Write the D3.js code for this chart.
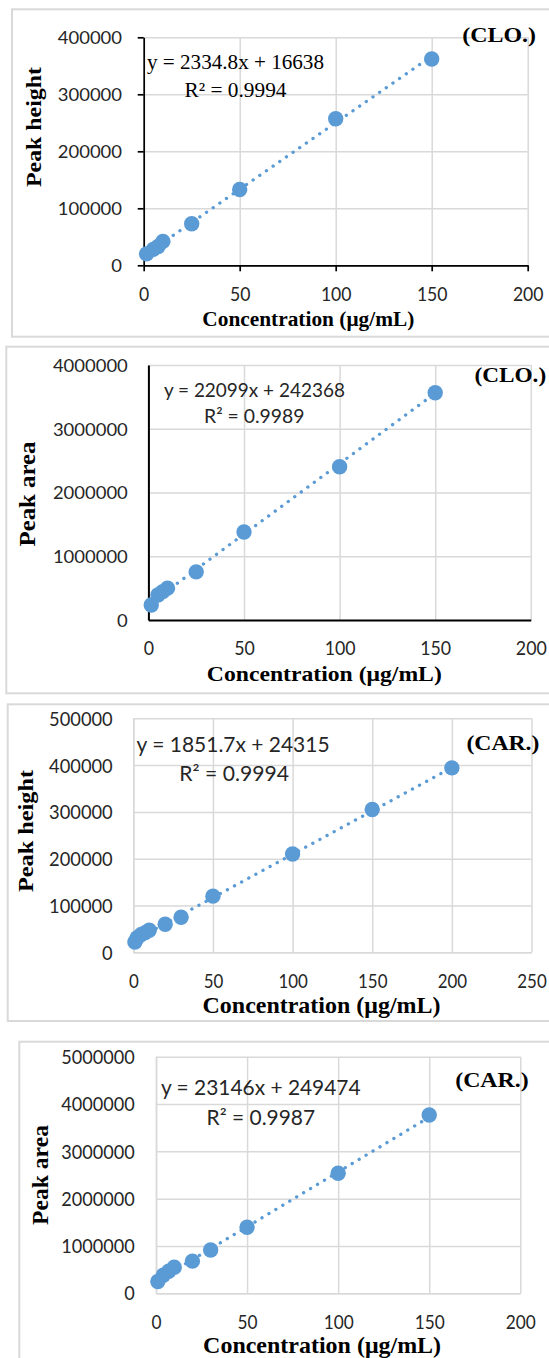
<!DOCTYPE html>
<html><head><meta charset="utf-8">
<script src="https://cdn.jsdelivr.net/npm/d3@7"></script>
<style>html,body{margin:0;padding:0;background:#fff;}svg{display:block;}</style>
</head><body>
<script>
// ---------- data ----------
const cloConc = [1.5, 5, 7.5, 10, 25, 50, 100, 150];
const cloHeight = [20000, 28000, 33000, 42000, 73000, 133000, 257000, 362000];
const cloArea = [236000, 392000, 445000, 500000, 755000, 1380000, 2405000, 3565000];
const carHeightConc = [1, 2.5, 5, 7.5, 10, 20, 30, 50, 100, 150, 200];
const carHeight = [22000, 31000, 38000, 42000, 47000, 60000, 75000, 120000, 210000, 305000, 394000];
const carAreaConc = [1, 4, 7, 10, 20, 30, 50, 100, 150];
const carArea = [250000, 380000, 465000, 550000, 680000, 915000, 1395000, 2536000, 3768000];

const slopes = [2334.8, 22099, 1851.7, 23146];
const intercepts = [16638, 242368, 24315, 249474];
const eqLabels = ["y = 2334.8x + 16638", "y = 22099x + 242368", "y = 1851.7x + 24315", "y = 23146x + 249474"];
const r2Labels = ["R² = 0.9994", "R² = 0.9989", "R² = 0.9994", "R² = 0.9987"];
const tags = ["(CLO.)", "(CLO.)", "(CAR.)", "(CAR.)"];
const yTitles = ["Peak height", "Peak area", "Peak height", "Peak area"];
const xTitle = "Concentration (μg/mL)";

const xTicks200 = [0, 50, 100, 150, 200];
const xTicks250 = [0, 50, 100, 150, 200, 250];
const yTicksP1 = [0, 100000, 200000, 300000, 400000];
const yTicksP2 = [0, 1000000, 2000000, 3000000, 4000000];
const yTicksP3 = [0, 100000, 200000, 300000, 400000, 500000];
const yTicksP4 = [0, 1000000, 2000000, 3000000, 4000000, 5000000];

const series = [
  {xs: cloConc, ys: cloHeight, xTicks: xTicks200, yTicks: yTicksP1},
  {xs: cloConc, ys: cloArea, xTicks: xTicks200, yTicks: yTicksP2},
  {xs: carHeightConc, ys: carHeight, xTicks: xTicks250, yTicks: yTicksP3},
  {xs: carAreaConc, ys: carArea, xTicks: xTicks200, yTicks: yTicksP4}
];

// ---------- layout / style ----------
const layout = [
  {frame:[12,9.3,336.7], x0:143.7, x1:527.7, y0:265.3, y1:37.3, axis:'#000', axisW:1.7, tick:6,
   yLabR:122, yFs:16.3, yCw:10.7, xLabB:301, xFs:19, xCw:10.2,
   yt:{bx:41, cy:127, len:120, fs:22}, xt:{cx:308.3, by:326, len:212, fs:20},
   tag:{x:462.2, by:41.7, len:73.8, fs:22},
   eqFont:'"Liberation Serif", "Times New Roman", serif', eqFs:21,
   eq:{x:147, by:69, len:177}, r2:{x:184.5, by:96.7, len:102}},
  {frame:[6.3,346.7,693.3], x0:148.4, x1:530.8, y0:620, y1:365, axis:'#000', axisW:2, tick:0,
   yLabR:127.8, yFs:17.5, yCw:10.7, xLabB:655, xFs:18.5, xCw:10.3,
   yt:{bx:35, cy:494, len:105, fs:23}, xt:{cx:324.3, by:680.5, len:235, fs:22},
   tag:{x:474.4, by:381.7, len:71.8, fs:20.5},
   eqFont:'Lato, "Open Sans", sans-serif', eqFs:19.5,
   eq:{x:163.9, by:397.3, len:181}, r2:{x:204, by:422.7, len:100.6}},
  {frame:[7.7,704.3,1021], x0:133.3, x1:531.5, y0:952.3, y1:718.3, axis:'#d9d9d9', axisW:1.5, tick:0,
   yLabR:112.7, yFs:19.5, yCw:10.6, xLabB:987.7, xFs:19, xCw:9.8,
   yt:{bx:32.5, cy:831, len:122, fs:22}, xt:{cx:321.5, by:1013, len:238, fs:23},
   tag:{x:466.4, by:750, len:73, fs:21},
   eqFont:'Lato, "Open Sans", sans-serif', eqFs:20.5,
   eq:{x:136.6, by:752.3, len:193}, r2:{x:179.3, by:781, len:109.6}},
  {frame:[19.3,1041.7,1420], x0:156, x1:520.3, y0:1293.3, y1:1056.7, axis:'#d9d9d9', axisW:1.5, tick:0,
   yLabR:134.8, yFs:18.5, yCw:10.5, xLabB:1329, xFs:19.5, xCw:10,
   yt:{bx:48, cy:1175, len:100, fs:23}, xt:{cx:322.1, by:1353, len:238, fs:23},
   tag:{x:455.2, by:1086.7, len:73.5, fs:21},
   eqFont:'Lato, "Open Sans", sans-serif', eqFs:20.5,
   eq:{x:161, by:1095, len:199.6}, r2:{x:206.6, by:1125, len:108.5}}
];

const BLUE = '#5B9BD5', GRID = '#d9d9d9', TXT = '#262626';
const SERIF = '"Liberation Serif", "Times New Roman", serif';
const SANS = 'Lato, "Open Sans", sans-serif';

const svg = d3.select('body').append('svg').attr('width', 549).attr('height', 1358);

series.forEach((s, i) => {
  const L = layout[i];
  const g = svg.append('g');
  // frame
  g.append('rect').attr('x', L.frame[0]).attr('y', L.frame[1])
    .attr('width', 600).attr('height', L.frame[2] - L.frame[1])
    .attr('fill', 'none').attr('stroke', GRID).attr('stroke-width', 2);

  const x = d3.scaleLinear().domain(d3.extent(s.xTicks)).range([L.x0, L.x1]);
  const y = d3.scaleLinear().domain(d3.extent(s.yTicks)).range([L.y0, L.y1]);

  // gridlines
  g.append('g').attr('transform', `translate(0,${L.y0})`)
    .call(d3.axisBottom(x).tickValues(s.xTicks).tickSize(-(L.y0 - L.y1)).tickFormat(''))
    .call(a => { a.select('.domain').remove(); a.selectAll('line').attr('stroke', GRID).attr('stroke-width', 1.5); });
  g.append('g').attr('transform', `translate(${L.x0},0)`)
    .call(d3.axisLeft(y).tickValues(s.yTicks).tickSize(-(L.x1 - L.x0)).tickFormat(''))
    .call(a => { a.select('.domain').remove(); a.selectAll('line').attr('stroke', GRID).attr('stroke-width', 1.5); });

  // x axis
  const xa = g.append('g').attr('transform', `translate(0,${L.y0})`)
    .call(d3.axisBottom(x).tickValues(s.xTicks).tickSizeInner(L.tick).tickSizeOuter(0).tickFormat(d3.format('d')));
  xa.select('.domain').attr('stroke', L.axis).attr('stroke-width', L.axisW);
  xa.selectAll('.tick line').attr('stroke', L.axis).attr('stroke-width', L.axisW);
  if (!L.tick) xa.selectAll('.tick line').remove();
  xa.selectAll('text').attr('y', L.xLabB - L.y0).attr('dy', null)
    .attr('font-family', SANS).attr('font-size', L.xFs).attr('fill', TXT)
    .attr('textLength', d => String(d).length * L.xCw).attr('lengthAdjust', 'spacingAndGlyphs');

  // y axis
  const ya = g.append('g').attr('transform', `translate(${L.x0},0)`)
    .call(d3.axisLeft(y).tickValues(s.yTicks).tickSizeInner(L.tick).tickSizeOuter(0).tickFormat(d3.format('d')));
  ya.select('.domain').attr('stroke', L.axis).attr('stroke-width', L.axisW);
  ya.selectAll('.tick line').attr('stroke', L.axis).attr('stroke-width', L.axisW);
  if (!L.tick) ya.selectAll('.tick line').remove();
  ya.selectAll('text').attr('x', L.yLabR - L.x0).attr('dy', '0.36em').attr('text-anchor', 'end')
    .attr('font-family', SANS).attr('font-size', L.yFs).attr('fill', TXT)
    .attr('textLength', d => String(d).length * L.yCw).attr('lengthAdjust', 'spacingAndGlyphs');

  // trendline
  const ext = d3.extent(s.xs);
  const line = d3.line().x(d => x(d)).y(d => y(slopes[i] * d + intercepts[i]));
  g.append('path').attr('d', line(ext)).attr('fill', 'none').attr('stroke', BLUE)
    .attr('stroke-width', 3.3).attr('stroke-linecap', 'round').attr('stroke-dasharray', '0.1 8');

  // points
  g.append('g').selectAll('circle').data(s.xs.map((v, k) => [v, s.ys[k]])).join('circle')
    .attr('cx', d => x(d[0])).attr('cy', d => y(d[1])).attr('r', 7.7).attr('fill', BLUE);

  // texts
  g.append('text').text(yTitles[i])
    .attr('transform', `translate(${L.yt.bx},${L.yt.cy}) rotate(-90)`)
    .attr('text-anchor', 'middle').attr('font-family', SERIF).attr('font-weight', 'bold')
    .attr('font-size', L.yt.fs).attr('fill', '#000')
    .attr('textLength', L.yt.len).attr('lengthAdjust', 'spacingAndGlyphs');
  g.append('text').text(xTitle).attr('x', L.xt.cx).attr('y', L.xt.by)
    .attr('text-anchor', 'middle').attr('font-family', SERIF).attr('font-weight', 'bold')
    .attr('font-size', L.xt.fs).attr('fill', '#000')
    .attr('textLength', L.xt.len).attr('lengthAdjust', 'spacingAndGlyphs');
  g.append('text').text(tags[i]).attr('x', L.tag.x).attr('y', L.tag.by)
    .attr('font-family', SERIF).attr('font-weight', 'bold')
    .attr('font-size', L.tag.fs).attr('fill', '#000')
    .attr('textLength', L.tag.len).attr('lengthAdjust', 'spacingAndGlyphs');
  g.append('text').text(eqLabels[i]).attr('x', L.eq.x).attr('y', L.eq.by)
    .attr('font-family', L.eqFont).attr('font-size', L.eqFs).attr('fill', i === 0 ? '#000' : TXT)
    .attr('textLength', L.eq.len).attr('lengthAdjust', 'spacingAndGlyphs');
  g.append('text').text(r2Labels[i]).attr('x', L.r2.x).attr('y', L.r2.by)
    .attr('font-family', L.eqFont).attr('font-size', L.eqFs).attr('fill', i === 0 ? '#000' : TXT)
    .attr('textLength', L.r2.len).attr('lengthAdjust', 'spacingAndGlyphs');
});
</script>
</body></html>
